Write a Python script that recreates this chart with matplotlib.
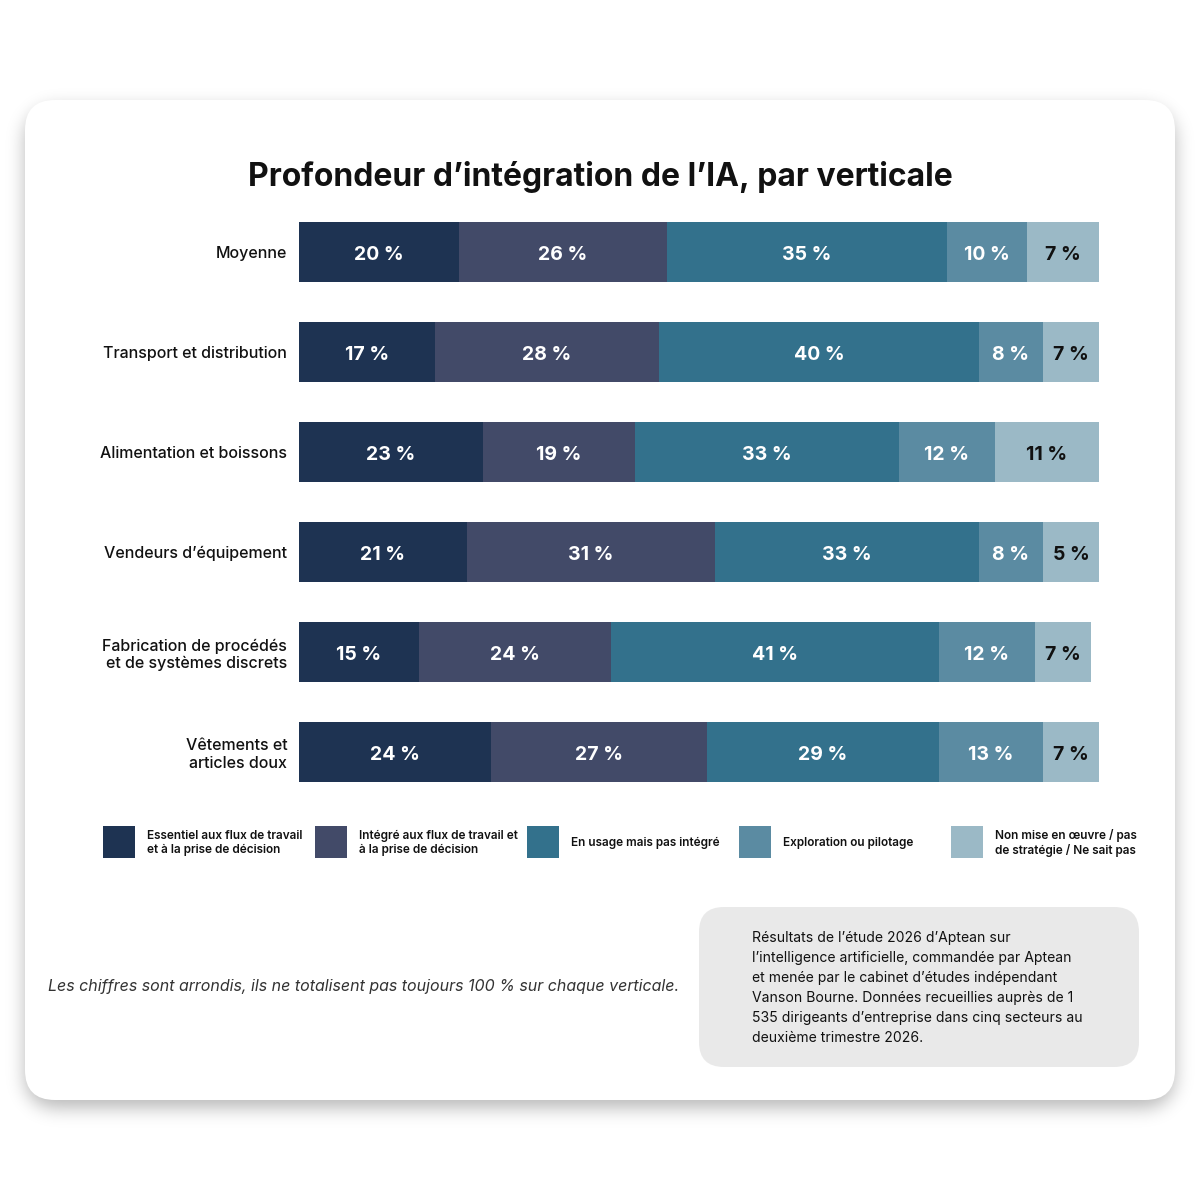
import numpy as np
import matplotlib.pyplot as plt
from matplotlib.patches import FancyBboxPatch, Rectangle

plt.rcParams['font.family'] = ['Inter', 'DejaVu Sans']

# data
categories = ["Moyenne", "Transport et distribution", "Alimentation et boissons",
              "Vendeurs d\u2019équipement",
              "Fabrication de procédés\net de systèmes discrets",
              "Vêtements et\narticles doux"]
essentiel = [20, 17, 23, 21, 15, 24]
integre = [26, 28, 19, 31, 24, 27]
en_usage = [35, 40, 33, 33, 41, 29]
exploration = [10, 8, 12, 8, 12, 13]
non_mise = [7, 7, 11, 5, 7, 7]
# drawn length of the last segment (bar fills further than the label in some rows)
non_mise_len = [9, 7, 13, 7, 7, 7]

series_names = ["Essentiel aux flux de travail\net à la prise de décision",
                "Intégré aux flux de travail et\nà la prise de décision",
                "En usage mais pas intégré",
                "Exploration ou pilotage",
                "Non mise en \u0153uvre / pas\nde stratégie / Ne sait pas"]
colors = ["#1e3352", "#424a68", "#33718c", "#5b8ba2", "#9bb9c6"]
label_colors = ["white", "white", "white", "white", "#111111"]

title = "Profondeur d\u2019intégration de l\u2019IA, par verticale"
footnote = "Les chiffres sont arrondis, ils ne totalisent pas toujours 100 % sur chaque verticale."
source = ("Résultats de l\u2019étude 2026 d\u2019Aptean sur\n"
          "l\u2019intelligence artificielle, commandée par Aptean\n"
          "et menée par le cabinet d\u2019études indépendant\n"
          "Vanson Bourne. Données recueillies auprès de 1\n"
          "535 dirigeants d\u2019entreprise dans cinq secteurs au\n"
          "deuxième trimestre 2026.")

W, H = 1200, 1200
fig = plt.figure(figsize=(12, 12), dpi=100)
fig.patch.set_facecolor("white")

# background axes in pixel coordinates
bg = fig.add_axes([0, 0, 1, 1])
bg.set_xlim(0, W)
bg.set_ylim(H, 0)
bg.axis("off")

# blurred drop shadow under the card
yy, xx = np.mgrid[0:H, 0:W] + 0.5
cx, cy, hw, hh, r = 600, 100 + 500 + 8, 575, 500, 30
qx = np.abs(xx - cx) - (hw - r)
qy = np.abs(yy - cy) - (hh - r)
dist = np.hypot(np.maximum(qx, 0), np.maximum(qy, 0)) + np.minimum(np.maximum(qx, qy), 0) - r
mask = (dist <= 0).astype(float)
sigma = 9.0
fy = np.fft.fftfreq(H)[:, None]
fx = np.fft.rfftfreq(W)[None, :]
kern = np.exp(-2 * (np.pi * sigma) ** 2 * (fx ** 2 + fy ** 2))
blur = np.fft.irfft2(np.fft.rfft2(mask) * kern, s=(H, W))
shadow = np.zeros((H, W, 4))
shadow[..., 3] = np.clip(blur, 0, 1) * 0.28
bg.imshow(shadow, extent=(0, W, H, 0), zorder=1, interpolation="bilinear")
bg.set_xlim(0, W)
bg.set_ylim(H, 0)

bg.add_patch(FancyBboxPatch((25, 100), 1150, 1000,
                            boxstyle="round,pad=0,rounding_size=30",
                            fc="white", ec="none", zorder=2))

bg.text(600, 177, title, ha="center", va="center", fontsize=23,
        fontweight="bold", color="#111111", zorder=3)

# legend
for i, (name, c) in enumerate(zip(series_names, colors)):
    x0 = 103 + i * 212
    bg.add_patch(Rectangle((x0, 826), 32, 32, fc=c, ec="none", zorder=3))
    bg.text(x0 + 44, 843, name, ha="left", va="center", fontsize=8.5,
            fontweight="semibold", color="#111111", linespacing=1.2, zorder=3)

bg.text(48, 987, footnote, ha="left", va="center", fontsize=11.5,
        fontstyle="italic", color="#333333", zorder=3)

bg.add_patch(FancyBboxPatch((699, 907), 440, 160,
                            boxstyle="round,pad=0,rounding_size=25",
                            fc="#e9e9e9", ec="none", zorder=3))
bg.text(752, 988, source, ha="left", va="center", fontsize=10.1,
        color="#111111", linespacing=1.55, zorder=4)

# bar chart axes
ax = fig.add_axes([299 / W, 1 - 802 / H, 800 / W, 600 / H])
ax.patch.set_alpha(0)
y = np.arange(len(categories))
lengths = [essentiel, integre, en_usage, exploration, non_mise_len]
labels = [essentiel, integre, en_usage, exploration, non_mise]
left = np.zeros(len(categories))
for vals, labs, c, lc in zip(lengths, labels, colors, label_colors):
    vals = np.array(vals, dtype=float)
    ax.barh(y, vals, left=left, height=0.6, color=c, edgecolor="none")
    for yi, (l, v, lab) in enumerate(zip(left, vals, labs)):
        ax.text(l + v / 2, yi + 0.025, f"{lab} %", ha="center", va="center",
                fontsize=14, fontweight="bold", color=lc)
    left += vals

ax.set_xlim(0, 100)
ax.set_ylim(len(categories) - 0.5, -0.5)
ax.set_yticks(y)
ax.set_yticklabels(categories, fontsize=11.5, fontweight="medium",
                   color="#111111", linespacing=1.2)
ax.tick_params(axis="y", length=0, pad=8.5)
ax.set_xticks([])
for sp in ax.spines.values():
    sp.set_visible(False)

fig.savefig("out.png", dpi=100, facecolor="white")
